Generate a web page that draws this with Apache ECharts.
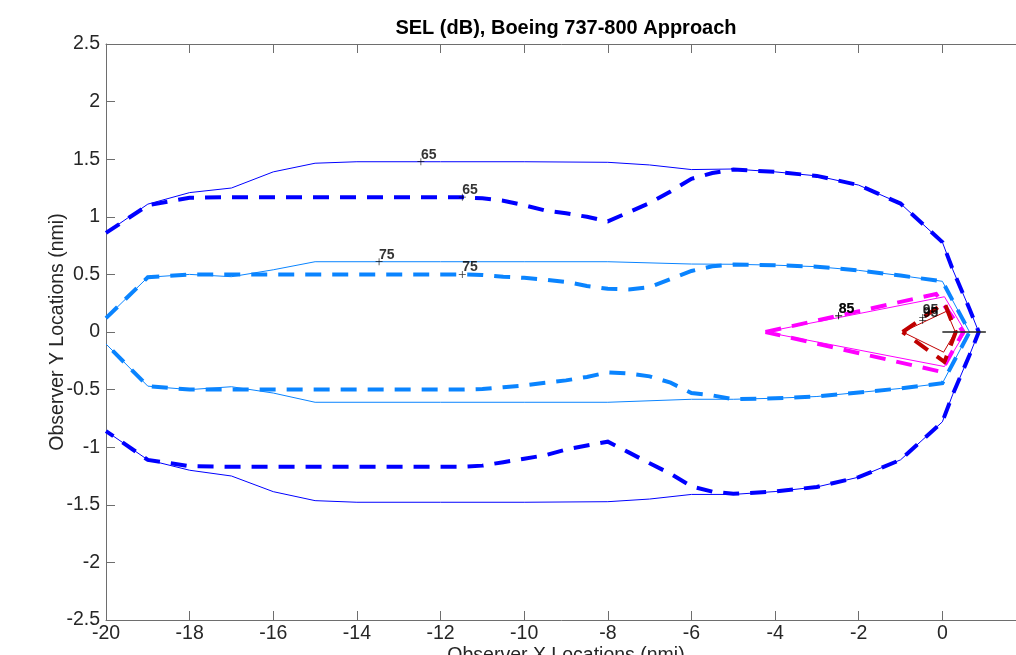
<!DOCTYPE html>
<html>
<head>
<meta charset="utf-8">
<script src="https://cdn.jsdelivr.net/npm/echarts@6/dist/echarts.min.js"></script>
<style>html,body{margin:0;padding:0;background:#fff;}#c{width:1016px;height:655px;}</style>
</head>
<body>
<div id="c"></div>
<script>
// ---- data (x, y in nmi) ----
const c65Solid = [[-20,0.86],[-19,1.11],[-18,1.21],[-17,1.25],[-16,1.39],[-15,1.465],[-14,1.478],[-12,1.478],[-10,1.478],[-8,1.473],[-7,1.45],[-6,1.41],[-5,1.415],[-4,1.39],[-3,1.355],[-2,1.275],[-1,1.115],[0,0.78],[0.25,0.54],[0.65,0.2],[0.87,0],
  [0.65,-0.2],[0.25,-0.54],[0,-0.78],[-1,-1.11],[-2,-1.26],[-3,-1.345],[-4,-1.385],[-5,-1.41],[-6,-1.41],[-7,-1.45],[-8,-1.473],[-10,-1.478],[-12,-1.478],[-14,-1.478],[-15,-1.464],[-16,-1.386],[-17,-1.25],[-18,-1.2],[-19,-1.11],[-20,-0.86]];
const c65Dashed = [[-20,0.86],[-19,1.1],[-18,1.165],[-17,1.17],[-16,1.17],[-15,1.17],[-14,1.17],[-13,1.17],[-12,1.17],[-11.5,1.17],[-11,1.16],[-10.5,1.14],[-10,1.1],[-9.5,1.055],[-9,1.03],[-8.5,1.0],[-8,0.96],[-7.5,1.04],[-7,1.12],[-6.5,1.22],[-6,1.33],[-5.5,1.38],[-5,1.41],[-4,1.39],[-3,1.355],[-2,1.275],[-1,1.115],[0,0.78],[0.25,0.54],[0.65,0.2],[0.87,0],
  [0.65,-0.2],[0.25,-0.54],[0,-0.78],[-1,-1.11],[-2,-1.26],[-3,-1.345],[-4,-1.385],[-5,-1.405],[-5.5,-1.386],[-6,-1.34],[-6.5,-1.23],[-7,-1.14],[-7.5,-1.045],[-8,-0.952],[-8.5,-0.985],[-9,-1.02],[-9.5,-1.07],[-10,-1.1],[-10.5,-1.13],[-11,-1.16],[-11.5,-1.17],[-12,-1.17],[-13,-1.17],[-14,-1.17],[-15,-1.17],[-16,-1.17],[-17,-1.17],[-18,-1.165],[-19,-1.11],[-20,-0.86]];
const c75Solid = [[-20,0.12],[-19,0.475],[-18,0.5],[-17,0.48],[-16,0.54],[-15,0.61],[-12,0.61],[-10,0.61],[-8,0.61],[-6,0.59],[-5,0.588],[-4,0.58],[-3,0.567],[-2,0.535],[-1,0.49],[0,0.44],[0.65,0],
  [0,-0.445],[-1,-0.49],[-2,-0.525],[-3,-0.56],[-4,-0.575],[-5,-0.584],[-6,-0.584],[-8,-0.61],[-10,-0.61],[-12,-0.61],[-15,-0.61],[-16,-0.53],[-17,-0.475],[-18,-0.5],[-19,-0.47],[-20,-0.104]];
const c75Dashed = [[-20,0.12],[-19,0.475],[-18,0.5],[-17,0.5],[-16,0.5],[-15,0.5],[-14,0.5],[-13,0.5],[-12,0.5],[-11.5,0.5],[-11,0.495],[-10.5,0.48],[-10,0.47],[-9.5,0.455],[-9,0.435],[-8.5,0.4],[-8,0.375],[-7.5,0.37],[-7,0.39],[-6.5,0.46],[-6,0.53],[-5.5,0.57],[-5,0.585],[-4,0.58],[-3,0.567],[-2,0.535],[-1,0.49],[0,0.44],[0.65,0],
  [0,-0.445],[-1,-0.49],[-2,-0.525],[-3,-0.56],[-4,-0.575],[-5,-0.584],[-5.5,-0.55],[-6,-0.53],[-6.5,-0.44],[-7,-0.385],[-7.5,-0.36],[-8,-0.35],[-8.5,-0.39],[-9,-0.42],[-9.5,-0.44],[-10,-0.465],[-10.5,-0.48],[-11,-0.495],[-11.5,-0.5],[-12,-0.5],[-13,-0.5],[-14,-0.5],[-15,-0.5],[-16,-0.5],[-17,-0.5],[-18,-0.5],[-19,-0.47],[-20,-0.104]];
const c85Solid = [[-4.23,0],[0.05,0.306],[0.55,0],[0.05,-0.30],[-4.23,0]];
const c85Dashed = [[-4.23,0],[-0.15,0.33],[0.5,0],[-0.03,-0.345],[-4.23,0]];
const c95Solid = [[-0.95,0],[0.1,0.18],[0.31,0],[0.03,-0.175],[-0.95,0]];
const c95Dashed = [[-0.95,0],[0.05,0.255],[0.32,0],[0.05,-0.26],[-0.95,0]];
const runway = [[0,0],[1.04,0]];
const labelPoints = [[-12.47,1.478,'65'],[-11.48,1.17,'65'],[-13.47,0.61,'75'],[-11.48,0.5,'75'],[-2.48,0.14,'85'],[-2.48,0.14,'85'],[-0.47,0.125,'95'],[-0.47,0.1,'95']];
const titleText = 'SEL (dB), Boeing 737-800 Approach';
const xName = 'Observer X Locations (nmi)';
const yName = 'Observer Y Locations (nmi)';

const chart = echarts.init(document.getElementById('c'), null, {renderer:'canvas'});
const FONT = '"Liberation Sans", Arial, Helvetica, sans-serif';
const axisCol = '#6e6e6e';
const textCol = '#262626';
const dash = [16, 11];
function line(data, color, width, type, z) {
  return {type:'line', data, showSymbol:false, symbol:'none', silent:true, animation:false, z,
    lineStyle:{color, width, type, cap:'butt', join:'miter'}};
}
const plusPath = 'path://M0,4.45H10V5.55H0ZM4.45,0H5.55V10H4.45Z';
chart.setOption({
  animation:false,
  title:{text:titleText, left:566, top:18, padding:0, textAlign:'center',
    textStyle:{fontFamily:FONT, fontSize:20, fontWeight:'bold', color:'#000'}},
  grid:{left:106, top:44, width:920, height:576, containLabel:false, outerBoundsMode:'none'},
  xAxis:[{type:'value', min:-20, max:2, interval:2, position:'bottom',
      name:xName, nameLocation:'middle', nameGap:26, nameMoveOverlap:false,
      nameTextStyle:{fontFamily:FONT, fontSize:19.5, color:textCol},
      axisLine:{show:true, onZero:false, lineStyle:{color:axisCol, width:1}},
      axisTick:{show:true, inside:true, length:9, lineStyle:{color:axisCol}},
      axisLabel:{margin:4, fontFamily:FONT, fontSize:19.5, color:textCol},
      splitLine:{show:false}},
    {type:'value', min:-20, max:2, interval:2, position:'top',
      axisLine:{show:true, onZero:false, lineStyle:{color:axisCol, width:1}},
      axisTick:{show:true, inside:true, length:9, lineStyle:{color:axisCol}},
      axisLabel:{show:false}, splitLine:{show:false}}],
  yAxis:{type:'value', min:-2.5, max:2.5, interval:0.5, position:'left',
    name:yName, nameLocation:'middle', nameGap:38, nameRotate:90, nameMoveOverlap:false,
    nameTextStyle:{fontFamily:FONT, fontSize:19.5, color:textCol},
    axisLine:{show:true, onZero:false, lineStyle:{color:axisCol, width:1}},
    axisTick:{show:true, inside:true, length:9, lineStyle:{color:axisCol}},
    axisLabel:{margin:6, fontFamily:FONT, fontSize:19.5, color:textCol},
    splitLine:{show:false}},
  series:[
    line(c65Dashed, '#0000ff', 4, dash, 2),
    line(c75Dashed, '#0a84ff', 4, dash, 2),
    line(c85Dashed, '#ff00ff', 4, dash, 2),
    line(c95Dashed, '#c00000', 4, dash, 2),
    line(c65Solid, '#0000ff', 1, 'solid', 3),
    line(c75Solid, '#0a84ff', 1, 'solid', 3),
    line(c85Solid, '#ff00ff', 1, 'solid', 3),
    line(c95Solid, '#c00000', 1, 'solid', 3),
    line(runway, '#222222', 1.6, 'solid', 4),
    {type:'scatter', data:labelPoints, symbol:plusPath, symbolSize:7, silent:true, animation:false, z:5,
      itemStyle:{color:'#000'},
      label:{show:true, formatter:p => p.data[2], position:[3.5,3.5], align:'left', verticalAlign:'bottom',
        fontFamily:FONT, fontSize:14, fontWeight:'bold', color:'#000'}}
  ]
});
</script>
</body>
</html>
